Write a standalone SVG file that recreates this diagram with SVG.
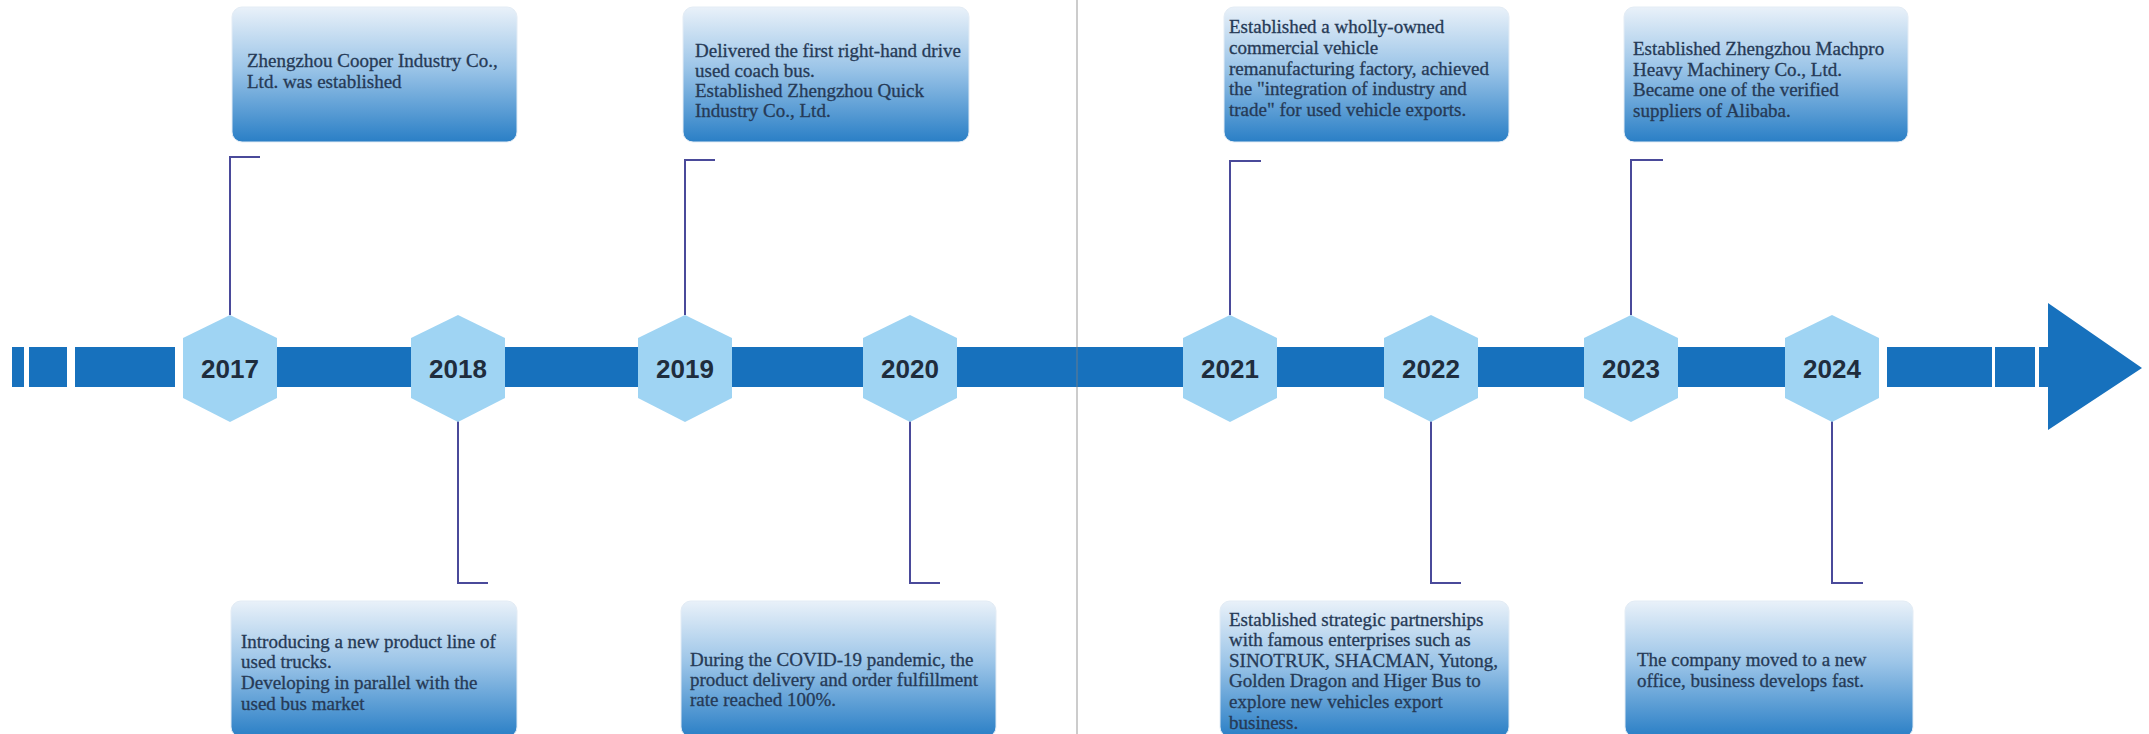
<svg xmlns="http://www.w3.org/2000/svg" width="2149" height="734" viewBox="0 0 2149 734">
<defs>
<linearGradient id="boxGrad" x1="0" y1="0" x2="0" y2="1">
<stop offset="0" stop-color="#e9f1f9"/>
<stop offset="0.45" stop-color="#9cc5e8"/>
<stop offset="1" stop-color="#2a7fc6"/>
</linearGradient>
<style>
.box{fill:url(#boxGrad);stroke:#e3ecf5;stroke-width:1}
.txt{font-family:"Liberation Serif","Times New Roman",serif;font-size:19px;fill:#263a56;stroke:#263a56;stroke-width:0.3}
.hex{fill:#9fd4f3}
.year{font-family:"Liberation Sans",Arial,sans-serif;font-size:26px;font-weight:bold;fill:#1f2d3d;text-anchor:middle}
.bar{fill:#1771bd}
.brk{fill:none;stroke:#4a4a9a;stroke-width:2}
</style>
</defs>
<rect width="2149" height="734" fill="#ffffff"/>

<g id="timeline">
<rect class="bar" x="12" y="347" width="12" height="40"/>
<rect class="bar" x="29" y="347" width="38" height="40"/>
<rect class="bar" x="75" y="347" width="100" height="40"/>
<rect class="bar" x="184" y="347" width="1695" height="40"/>
<rect class="bar" x="1887" y="347" width="105" height="40"/>
<rect class="bar" x="1995" y="347" width="40" height="40"/>
<polygon class="bar" points="2039,347 2048,347 2048,303 2142,368 2048,430 2048,387 2039,387"/>
</g>

<g id="connectors">
<path class="brk" d="M230,315 V157 H260"/>
<path class="brk" d="M685,315 V160 H715"/>
<path class="brk" d="M1230,315 V161 H1261"/>
<path class="brk" d="M1631,315 V160 H1663"/>
<path class="brk" d="M458,421 V583 H488"/>
<path class="brk" d="M910,421 V583 H940"/>
<path class="brk" d="M1431,421 V583 H1461"/>
<path class="brk" d="M1832,421 V583 H1863"/>
</g>

<g id="y2017">
<polygon class="hex" points="230,315 277,338 277,398 230,422 183,398 183,338"/>
<text class="year" x="230" y="378">2017</text>
<rect class="box" x="232" y="7" width="285" height="135" rx="10"/>
<text class="txt" x="247" y="67">Zhengzhou Cooper Industry Co.,</text>
<text class="txt" x="247" y="88">Ltd. was established</text>
</g>

<g id="y2018">
<polygon class="hex" points="458,315 505,338 505,398 458,422 411,398 411,338"/>
<text class="year" x="458" y="378">2018</text>
<rect class="box" x="231" y="601" width="286" height="136" rx="10"/>
<text class="txt" x="241" y="648">Introducing a new product line of</text>
<text class="txt" x="241" y="668">used trucks.</text>
<text class="txt" x="241" y="689">Developing in parallel with the</text>
<text class="txt" x="241" y="710">used bus market</text>
</g>

<g id="y2019">
<polygon class="hex" points="685,315 732,338 732,398 685,422 638,398 638,338"/>
<text class="year" x="685" y="378">2019</text>
<rect class="box" x="683" y="7" width="286" height="135" rx="10"/>
<text class="txt" x="695" y="57">Delivered the first right-hand drive</text>
<text class="txt" x="695" y="77">used coach bus.</text>
<text class="txt" x="695" y="97">Established Zhengzhou Quick</text>
<text class="txt" x="695" y="117">Industry Co., Ltd.</text>
</g>

<g id="y2020">
<polygon class="hex" points="910,315 957,338 957,398 910,422 863,398 863,338"/>
<text class="year" x="910" y="378">2020</text>
<rect class="box" x="681" y="601" width="315" height="136" rx="10"/>
<text class="txt" x="690" y="666">During the COVID-19 pandemic, the</text>
<text class="txt" x="690" y="686">product delivery and order fulfillment</text>
<text class="txt" x="690" y="706">rate reached 100%.</text>
</g>

<g id="y2021">
<polygon class="hex" points="1230,315 1277,338 1277,398 1230,422 1183,398 1183,338"/>
<text class="year" x="1230" y="378">2021</text>
<rect class="box" x="1224" y="7" width="285" height="135" rx="10"/>
<text class="txt" x="1229" y="33">Established a wholly-owned</text>
<text class="txt" x="1229" y="54">commercial vehicle</text>
<text class="txt" x="1229" y="75">remanufacturing factory, achieved</text>
<text class="txt" x="1229" y="95">the "integration of industry and</text>
<text class="txt" x="1229" y="116">trade" for used vehicle exports.</text>
</g>

<g id="y2022">
<polygon class="hex" points="1431,315 1478,338 1478,398 1431,422 1384,398 1384,338"/>
<text class="year" x="1431" y="378">2022</text>
<rect class="box" x="1220" y="601" width="289" height="136" rx="10"/>
<text class="txt" x="1229" y="626">Established strategic partnerships</text>
<text class="txt" x="1229" y="646">with famous enterprises such as</text>
<text class="txt" x="1229" y="667">SINOTRUK, SHACMAN, Yutong,</text>
<text class="txt" x="1229" y="687">Golden Dragon and Higer Bus to</text>
<text class="txt" x="1229" y="708">explore new vehicles export</text>
<text class="txt" x="1229" y="729">business.</text>
</g>

<g id="y2023">
<polygon class="hex" points="1631,315 1678,338 1678,398 1631,422 1584,398 1584,338"/>
<text class="year" x="1631" y="378">2023</text>
<rect class="box" x="1624" y="7" width="284" height="135" rx="10"/>
<text class="txt" x="1633" y="55">Established Zhengzhou Machpro</text>
<text class="txt" x="1633" y="76">Heavy Machinery Co., Ltd.</text>
<text class="txt" x="1633" y="96">Became one of the verified</text>
<text class="txt" x="1633" y="117">suppliers of Alibaba.</text>
</g>

<g id="y2024">
<polygon class="hex" points="1832,315 1879,338 1879,398 1832,422 1785,398 1785,338"/>
<text class="year" x="1832" y="378">2024</text>
<rect class="box" x="1625" y="601" width="288" height="136" rx="10"/>
<text class="txt" x="1637" y="666">The company moved to a new</text>
<text class="txt" x="1637" y="687">office, business develops fast.</text>
</g>

<g id="divider">
<line x1="1077" y1="0" x2="1077" y2="734" stroke="#808080" stroke-width="1" stroke-opacity="0.8"/>
</g>
</svg>
